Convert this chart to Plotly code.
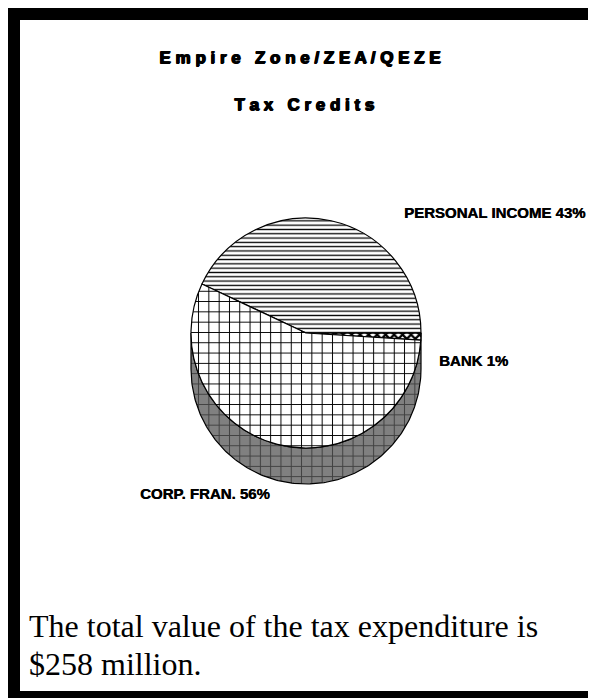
import numpy as np
import plotly.graph_objects as go

# ---- data ----
labels = ["BANK", "PERSONAL INCOME", "CORP. FRAN."]
shares = [1, 43, 56]
title_lines = ["Empire Zone/ZEA/QEZE", "Tax Credits"]
note_lines = ["The total value of the tax expenditure is", "$258 million."]

# ---- geometry (window pixel space; page body has an 8px margin) ----
VW, VH = 596, 698          # browser window
OFF = 8                    # default body margin
W, H = VW - OFF, VH - OFF  # figure size
cx, cy, r, depth = 306, 333, 115, 36
grid = 10.3

def spaced(s):
    return " ".join(s)

fig = go.Figure()

# cylinder side of the 3-D pie (decoration)
t = np.linspace(0, np.pi, 181)
xs = np.concatenate([cx - r * np.cos(t), cx + r * np.cos(t)])
ys = np.concatenate([cy + depth + r * np.sin(t), cy + r * np.sin(t)])
fig.add_trace(go.Scatter(
    x=np.append(xs, xs[0]), y=np.append(ys, ys[0]), mode="lines",
    fill="toself", fillcolor="#808080",
    fillpattern=dict(shape="+", fgcolor="black", bgcolor="#808080",
                     size=grid, solidity=0.18),
    line=dict(color="black", width=1.2), hoverinfo="skip", showlegend=False))

# top face of the pie
fig.add_trace(go.Pie(
    labels=labels, values=shares, sort=False, direction="counterclockwise",
    rotation=90, textinfo="none", hoverinfo="label+percent", showlegend=False,
    marker=dict(colors=["white", "white", "white"],
                line=dict(color="black", width=1.2),
                pattern=dict(shape=["x", "-", "+"], fgcolor="black", bgcolor="white",
                             size=[6, 4.3, grid], solidity=[0.6, 0.3, 0.18])),
    domain=dict(x=[(cx - r - OFF) / W, (cx + r - OFF) / W],
                y=[1 - (cy + r - OFF) / H, 1 - (cy - r - OFF) / H])))

annotations = []
for (tx, ty), line in zip([(299, 57), (304, 104)], title_lines):
    annotations.append(dict(x=tx, y=ty, xref="x", yref="y", showarrow=False,
                            text=spaced(line), xanchor="center", yanchor="middle",
                            font=dict(family="Liberation Sans", size=17, color="black",
                                      weight="bold",
                                      shadow="1.3px 0px 0px #000, 0.6px 0.8px 0px #000, 0px 0.8px 0px #000")))

# slice labels
label_pos = {"PERSONAL INCOME": (494, 212), "CORP. FRAN.": (205, 493), "BANK": (473, 360)}
for lab, v in zip(labels, shares):
    lx, ly = label_pos[lab]
    annotations.append(dict(x=lx, y=ly, xref="x", yref="y", showarrow=False,
                            text=f"{lab} {v}%", xanchor="center", yanchor="middle",
                            font=dict(family="Liberation Sans", size=15, color="black",
                                      weight="bold", shadow="0.4px 0px 0px #000")))

# note text
for i, line in enumerate(note_lines):
    annotations.append(dict(x=27, y=646 + 38 * i, xref="x", yref="y", showarrow=False,
                            text=line, xanchor="left", yanchor="bottom",
                            font=dict(family="Liberation Serif", size=32, color="black")))

# frame
shapes = []
for x0, y0, x1, y1 in [(7, 6, 20, VH), (7, 6, VW, 20), (589, 6, VW, VH), (7, 691, VW, VH)]:
    shapes.append(dict(type="rect", xref="x", yref="y", x0=x0, y0=y0, x1=x1, y1=y1,
                       fillcolor="black", line=dict(width=0), layer="above"))

fig.update_layout(
    width=W, height=H, margin=dict(l=0, r=0, t=0, b=0),
    paper_bgcolor="white", plot_bgcolor="white",
    xaxis=dict(range=[OFF, VW], visible=False, fixedrange=True),
    yaxis=dict(range=[VH, OFF], visible=False, fixedrange=True),
    annotations=annotations, shapes=shapes, showlegend=False)

fig.write_html("out.html", config={"displayModeBar": False})
